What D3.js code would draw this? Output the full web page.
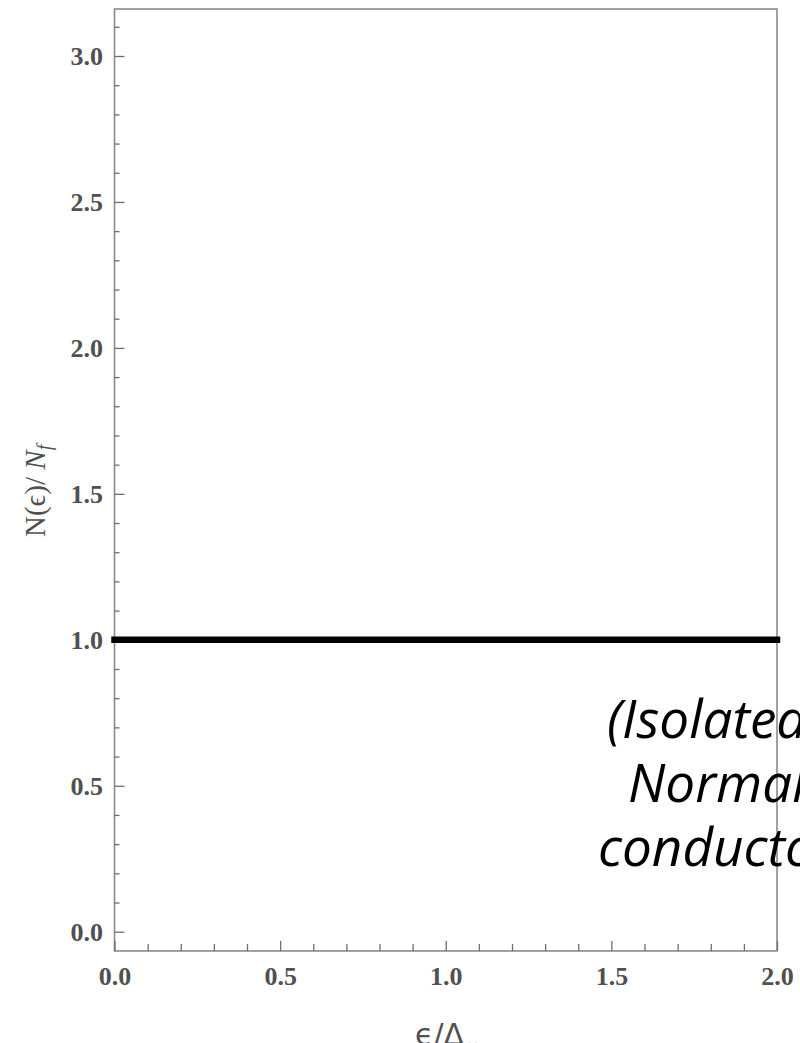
<!DOCTYPE html>
<html>
<head>
<meta charset="utf-8">
<script src="https://cdn.jsdelivr.net/npm/d3@7"></script>
<style>
  html, body { margin: 0; padding: 0; background: #fff; overflow: hidden; }
  svg { display: block; }
  .tick text { font-family: "Liberation Serif", "DejaVu Serif", serif; font-weight: bold; font-size: 26px; fill: #505050; }
  .tick line { stroke: #6e6e6e; stroke-width: 1.3; }
  .domain { display: none; }
</style>
</head>
<body>
<div id="chart"></div>
<script>
// data
var eps = [0, 2];          // epsilon / Delta_inf
var dos = [1, 1];          // N(eps) / N_f  (normal metal: flat)
var xMajor = [0, 0.5, 1, 1.5, 2];
var yMajor = [0, 0.5, 1, 1.5, 2, 2.5, 3];
var xMinor = [0.1, 0.2, 0.3, 0.4, 0.6, 0.7, 0.8, 0.9, 1.1, 1.2, 1.3, 1.4, 1.6, 1.7, 1.8, 1.9];
var yMinor = [0.1, 0.2, 0.3, 0.4, 0.6, 0.7, 0.8, 0.9, 1.1, 1.2, 1.3, 1.4,
              1.6, 1.7, 1.8, 1.9, 2.1, 2.2, 2.3, 2.4, 2.6, 2.7, 2.8, 2.9, 3.1];
var xRange = [0, 2];
var yRange = [-0.066, 3.161];
var noteLines = ["(Isolated", "Normal", "conductor)"];

var W = 800, H = 1043;

var x = d3.scaleLinear().domain([0, 2]).range([114.5, 777]);
var y = d3.scaleLinear().domain([0, 3]).range([931.7, 56]);

var svg = d3.select("#chart").append("svg")
    .attr("width", W)
    .attr("height", H);

// frame
svg.append("rect")
    .attr("x", x(xRange[0]))
    .attr("y", y(yRange[1]))
    .attr("width", x(xRange[1]) - x(xRange[0]))
    .attr("height", y(yRange[0]) - y(yRange[1]))
    .attr("fill", "none")
    .attr("stroke", "#8a8a8a")
    .attr("stroke-width", 1.6);

var fmt = d3.format(".1f");

// left axis
var yAxisG = svg.append("g").attr("transform", "translate(" + x(0) + ",0)");
yAxisG.append("g")
    .call(d3.axisLeft(y).tickValues(yMinor).tickSize(-5).tickFormat(""));
yAxisG.append("g")
    .call(d3.axisLeft(y).tickValues(yMajor).tickSize(-10).tickPadding(11.5).tickFormat(fmt));

// bottom axis
var xAxisG = svg.append("g").attr("transform", "translate(0," + y(yRange[0]) + ")");
xAxisG.append("g")
    .call(d3.axisBottom(x).tickValues(xMinor).tickSize(-7).tickFormat(""));
xAxisG.append("g")
    .call(d3.axisBottom(x).tickValues(xMajor).tickSize(-10).tickPadding(15.5).tickFormat(fmt));

// the curve
var line = d3.line()
    .x(function(d, i) { return x(eps[i]); })
    .y(function(d) { return y(d); });

svg.append("path")
    .datum(dos)
    .attr("d", line)
    .attr("fill", "none")
    .attr("stroke", "#000")
    .attr("stroke-width", 6.5)
    .attr("stroke-linecap", "square");

// axis titles
svg.append("text")
    .attr("x", 415)
    .attr("y", 1045)
    .style("font-family", "'DejaVu Sans', sans-serif")
    .style("font-size", "30px")
    .style("fill", "#505050")
    .html("ϵ/Δ<tspan dy='8' font-size='21px'>∞</tspan>");

svg.append("text")
    .attr("transform", "translate(45,537) rotate(-90)")
    .style("font-family", "'Liberation Serif', serif")
    .style("font-size", "29px")
    .style("fill", "#505050")
    .html("N(ϵ)/ <tspan font-style='italic'>N<tspan font-size='20px' dy='6'>f</tspan></tspan>");

// note
var noteX = [607, 628, 598];
svg.append("g").selectAll("text")
    .data(noteLines)
  .enter().append("text")
    .attr("x", function(d, i) { return noteX[i]; })
    .attr("y", function(d, i) { return 738 + i * 64; })
    .style("font-family", "'Open Sans', 'DejaVu Sans', sans-serif")
    .style("font-style", "italic")
    .style("font-size", "53px")
    .style("fill", "#000")
    .text(function(d) { return d; });
</script>
</body>
</html>
